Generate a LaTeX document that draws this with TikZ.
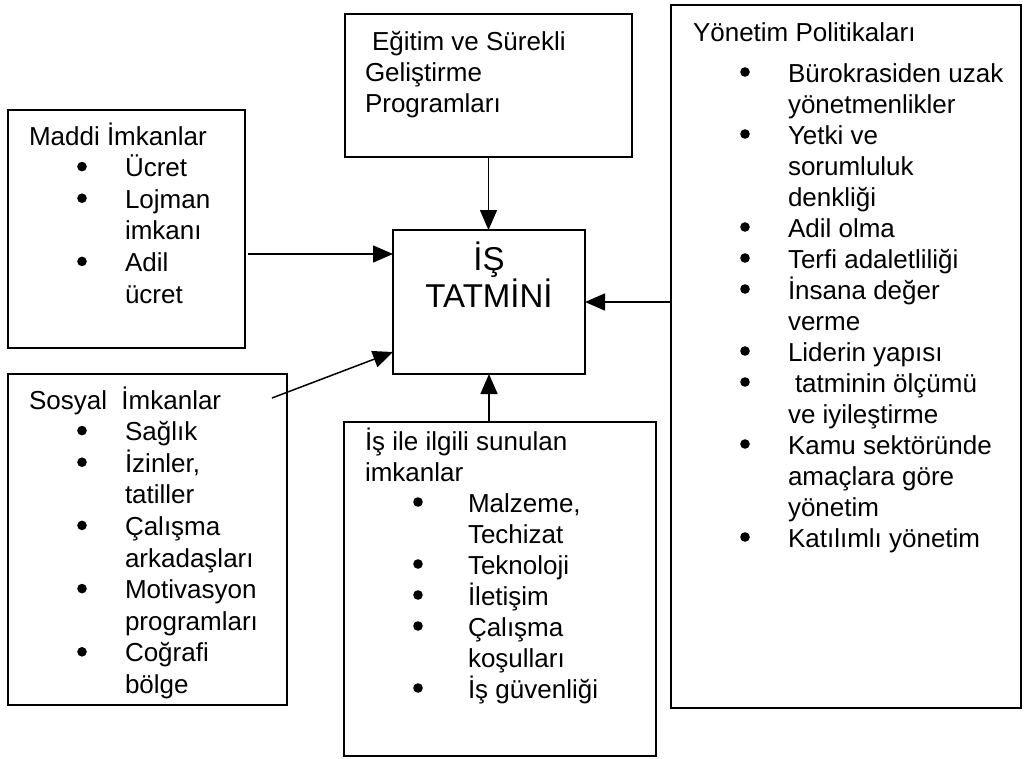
\documentclass[tikz,border=0pt]{standalone}
\usepackage{fontspec}
\setmainfont{Liberation Sans}
\usetikzlibrary{arrows.meta}
\newlength\bulind
\newlength\txtind
\newcommand\bigbul{\tikz[baseline=0pt]\fill (0pt,10pt) circle[radius=4.8pt];}
\newcommand\myitem[1]{\par\noindent\makebox[\txtind][l]{\hspace*{\bulind}\makebox[0pt]{\bigbul}}#1}
\newcommand\mycont[1]{\par\noindent\hspace*{\txtind}#1}
\newcommand\bodyfont[1]{\fontsize{26pt}{#1}\selectfont}
\tikzset{
  box/.style={draw, line width=1.5pt, inner sep=0pt, outer sep=0pt, anchor=north west},
  arr/.style={line width=1.5pt, -{Triangle[length=20pt,width=17pt]}},
  txt/.style={anchor=base west, inner sep=0pt, outer sep=0pt}
}
\begin{document}
\begin{tikzpicture}[x=1pt,y=-1pt]
\useasboundingbox[fill=white] (0,0) rectangle (1027,758);
% boxes
\node[box, minimum width=237pt, minimum height=238pt] (maddi) at (8,110) {};
\node[box, minimum width=279pt, minimum height=331pt] (sosyal) at (8,374) {};
\node[box, minimum width=287pt, minimum height=143pt] (egitim) at (345,14) {};
\node[box, minimum width=192pt, minimum height=144pt] (is) at (393,230) {};
\node[box, minimum width=312pt, minimum height=334pt] (isile) at (344,422) {};
\node[box, minimum width=350pt, minimum height=703pt] (yonetim) at (671,5) {};
% texts
\node[txt] (maddiT) at (29,145) {\begin{minipage}[t]{205pt}\bodyfont{31.6pt}
\setlength\bulind{53pt}\setlength\txtind{96pt}%
\noindent Maddi İmkanlar
\myitem{Ücret}
\myitem{Lojman}
\mycont{imkanı}
\myitem{Adil}
\mycont{ücret}
\end{minipage}};
\node[txt] (sosyalT) at (29,409) {\begin{minipage}[t]{250pt}\bodyfont{31.6pt}
\setlength\bulind{53pt}\setlength\txtind{96pt}%
\noindent Sosyal\ \ İmkanlar
\myitem{Sağlık}
\myitem{İzinler,}
\mycont{tatiller}
\myitem{Çalışma}
\mycont{arkadaşları}
\myitem{Motivasyon}
\mycont{programları}
\myitem{Coğrafi}
\mycont{bölge}
\end{minipage}};
\node[txt] (egitimT) at (365,50) {\begin{minipage}[t]{260pt}\bodyfont{31pt}
\noindent\hspace*{7pt}Eğitim ve Sürekli\par
\noindent Geliştirme\par
\noindent Programları
\end{minipage}};
\node[anchor=base, inner sep=0pt, outer sep=0pt] (isT) at (489,270) {\begin{minipage}[t]{180pt}\fontsize{33pt}{37pt}\selectfont\centering
İŞ\\TATMİNİ
\end{minipage}};
\node[txt] (isileT) at (365,450) {\begin{minipage}[t]{285pt}\bodyfont{31pt}
\setlength\bulind{53pt}\setlength\txtind{103pt}%
\noindent İş ile ilgili sunulan\par
\noindent imkanlar
\myitem{Malzeme,}
\mycont{Techizat}
\myitem{Teknoloji}
\myitem{İletişim}
\myitem{Çalışma}
\mycont{koşulları}
\myitem{İş güvenliği}
\end{minipage}};
\node[txt] (yonetimT) at (693,41) {\begin{minipage}[t]{320pt}\bodyfont{31pt}
\setlength\bulind{52pt}\setlength\txtind{95pt}%
\noindent Yönetim Politikaları\par\vspace{10pt}
\myitem{Bürokrasiden uzak}
\mycont{yönetmenlikler}
\myitem{Yetki ve}
\mycont{sorumluluk}
\mycont{denkliği}
\myitem{Adil olma}
\myitem{Terfi adaletliliği}
\myitem{İnsana değer}
\mycont{verme}
\myitem{Liderin yapısı}
\myitem{\hspace*{7pt}tatminin ölçümü}
\mycont{ve iyileştirme}
\myitem{Kamu sektöründe}
\mycont{amaçlara göre}
\mycont{yönetim}
\myitem{Katılımlı yönetim}
\end{minipage}};
% connectors
\coordinate (mstart) at (248,254);
\coordinate (sstart) at (272,398);
\draw[arr] (mstart) -- (mstart -| is.west);
\draw[arr] (sstart) -- ([yshift=22pt]is.south west);
\draw[arr] (egitim.south) -- (egitim.south |- is.north);
\draw[arr] (isile.north -| is.south) -- (is.south);
\draw[arr] (yonetim.west |- is.east) -- (is.east);
\end{tikzpicture}
\end{document}
